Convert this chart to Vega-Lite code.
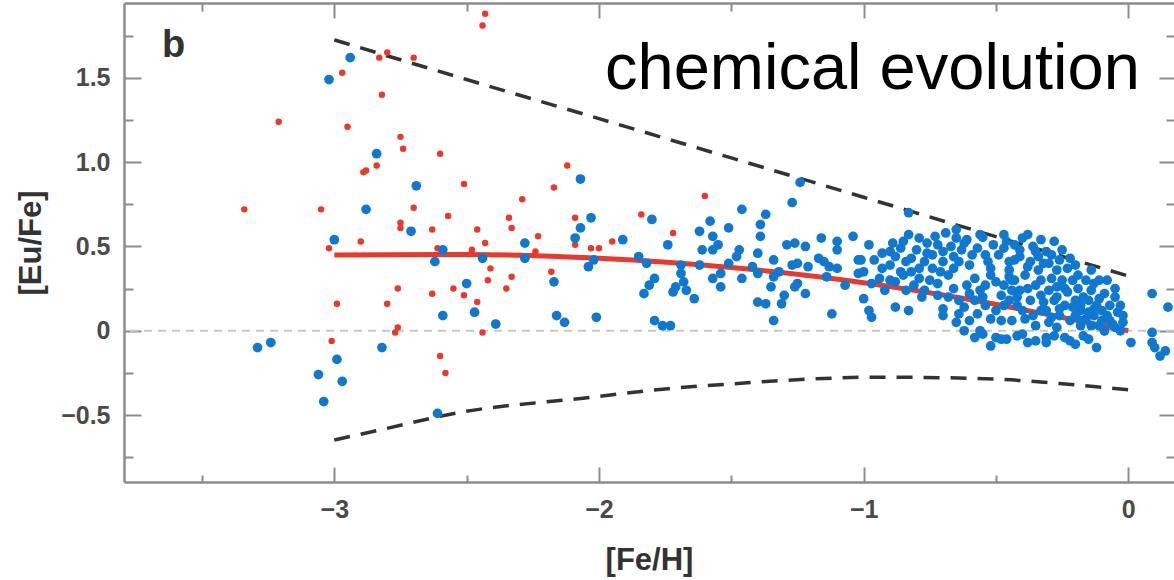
{
 "$schema": "https://vega.github.io/schema/vega-lite/v6.json",
 "width": 1050, "height": 479,
 "autosize": {"type": "none"},
 "padding": {"left": 124, "top": 3, "right": 0, "bottom": 98},
 "background": "white",
 "config": {
  "view": {"stroke": null},
  "axis": {"domainColor": "#8c8c8c", "domainWidth": 2.5, "tickColor": "#8c8c8c", "tickWidth": 2, "labelFont": "Liberation Sans", "labelFontWeight": "bold", "labelFontSize": 25, "labelColor": "#4a4a4a", "titleFont": "Liberation Sans", "titleFontWeight": "bold", "titleFontSize": 31, "titleColor": "#333333", "grid": false}
 },
 "datasets": {
  "red": [
   {"fe":-2.80,"eu":1.65},{"fe":-2.83,"eu":1.62},{"fe":-2.97,"eu":1.53},{"fe":-2.82,"eu":1.40},{"fe":-3.21,"eu":1.24},{"fe":-2.95,"eu":1.21},{"fe":-2.75,"eu":1.15},{"fe":-2.89,"eu":0.94},{"fe":-2.88,"eu":0.95},{"fe":-2.84,"eu":0.98},{"fe":-3.34,"eu":0.72},{"fe":-3.05,"eu":0.72},{"fe":-2.90,"eu":0.53},{"fe":-3.02,"eu":0.49},{"fe":-2.76,"eu":0.25},{"fe":-2.99,"eu":0.16},{"fe":-2.80,"eu":0.16},{"fe":-2.77,"eu":-0.01},{"fe":-2.76,"eu":0.02},{"fe":-3.01,"eu":-0.06},{"fe":-2.43,"eu":1.88},{"fe":-2.44,"eu":1.81},{"fe":-2.70,"eu":1.62},{"fe":-2.74,"eu":1.08},{"fe":-2.60,"eu":1.05},{"fe":-2.51,"eu":0.87},{"fe":-2.12,"eu":0.98},{"fe":-2.17,"eu":0.85},{"fe":-2.29,"eu":0.78},{"fe":-2.70,"eu":0.73},{"fe":-2.57,"eu":0.68},{"fe":-2.75,"eu":0.64},{"fe":-2.75,"eu":0.61},{"fe":-2.63,"eu":0.60},{"fe":-2.46,"eu":0.60},{"fe":-2.34,"eu":0.67},{"fe":-2.33,"eu":0.61},{"fe":-2.23,"eu":0.56},{"fe":-2.09,"eu":0.67},{"fe":-2.43,"eu":0.52},{"fe":-2.09,"eu":0.51},{"fe":-2.03,"eu":0.49},{"fe":-2.00,"eu":0.49},{"fe":-2.61,"eu":0.49},{"fe":-2.48,"eu":0.48},{"fe":-2.24,"eu":0.47},{"fe":-2.41,"eu":0.37},{"fe":-2.18,"eu":0.35},{"fe":-2.42,"eu":0.30},{"fe":-2.33,"eu":0.32},{"fe":-2.55,"eu":0.25},{"fe":-2.35,"eu":0.25},{"fe":-2.63,"eu":0.22},{"fe":-2.51,"eu":0.21},{"fe":-2.46,"eu":0.17},{"fe":-2.44,"eu":-0.01},{"fe":-2.60,"eu":-0.15},{"fe":-2.58,"eu":-0.25},{"fe":-1.60,"eu":0.80},{"fe":-1.84,"eu":0.69},{"fe":-1.72,"eu":0.58},{"fe":-1.95,"eu":0.53}
  ],
  "blue": [
   {"fe":-2.94,"eu":1.62},{"fe":-3.02,"eu":1.49},{"fe":-2.84,"eu":1.05},{"fe":-2.88,"eu":0.72},{"fe":-3.00,"eu":0.54},{"fe":-3.29,"eu":-0.10},{"fe":-3.24,"eu":-0.07},{"fe":-3.06,"eu":-0.26},{"fe":-2.99,"eu":-0.17},{"fe":-2.97,"eu":-0.30},{"fe":-3.04,"eu":-0.42},{"fe":-2.82,"eu":-0.10},{"fe":-2.69,"eu":0.86},{"fe":-2.71,"eu":0.59},{"fe":-2.62,"eu":0.41},{"fe":-2.59,"eu":0.48},{"fe":-2.59,"eu":0.09},{"fe":-2.50,"eu":0.28},{"fe":-2.47,"eu":0.11},{"fe":-2.44,"eu":0.43},{"fe":-2.39,"eu":0.04},{"fe":-2.28,"eu":0.52},{"fe":-2.28,"eu":0.43},{"fe":-2.17,"eu":0.29},{"fe":-2.16,"eu":0.09},{"fe":-2.13,"eu":0.05},{"fe":-2.09,"eu":0.55},{"fe":-2.07,"eu":0.61},{"fe":-2.04,"eu":0.38},{"fe":-2.03,"eu":0.67},{"fe":-2.02,"eu":0.42},{"fe":-2.01,"eu":0.08},{"fe":-2.07,"eu":0.90},{"fe":-2.61,"eu":-0.49},
   {"fe":-1.91,"eu":0.54},{"fe":-1.80,"eu":0.66},{"fe":-1.74,"eu":0.51},{"fe":-1.85,"eu":0.44},{"fe":-1.82,"eu":0.40},{"fe":-1.79,"eu":0.31},{"fe":-1.81,"eu":0.27},{"fe":-1.83,"eu":0.22},{"fe":-1.62,"eu":0.59},{"fe":-1.58,"eu":0.65},{"fe":-1.57,"eu":0.56},{"fe":-1.55,"eu":0.51},{"fe":-1.61,"eu":0.48},{"fe":-1.57,"eu":0.48},{"fe":-1.51,"eu":0.61},{"fe":-1.46,"eu":0.72},{"fe":-1.37,"eu":0.69},{"fe":-1.39,"eu":0.63},{"fe":-1.39,"eu":0.56},{"fe":-1.47,"eu":0.48},{"fe":-1.48,"eu":0.44},{"fe":-1.51,"eu":0.40},{"fe":-1.62,"eu":0.39},{"fe":-1.69,"eu":0.39},{"fe":-1.69,"eu":0.34},{"fe":-1.68,"eu":0.29},{"fe":-1.71,"eu":0.26},{"fe":-1.72,"eu":0.23},{"fe":-1.67,"eu":0.24},{"fe":-1.64,"eu":0.19},{"fe":-1.57,"eu":0.31},{"fe":-1.54,"eu":0.34},{"fe":-1.54,"eu":0.26},{"fe":-1.46,"eu":0.31},{"fe":-1.42,"eu":0.38},{"fe":-1.40,"eu":0.34},{"fe":-1.40,"eu":0.46},{"fe":-1.35,"eu":0.26},{"fe":-1.40,"eu":0.17},{"fe":-1.37,"eu":0.16},{"fe":-1.34,"eu":0.42},{"fe":-1.32,"eu":0.35},{"fe":-1.34,"eu":0.32},{"fe":-1.34,"eu":0.06},{"fe":-1.31,"eu":0.16},{"fe":-1.30,"eu":0.21},{"fe":-1.27,"eu":0.76},{"fe":-1.24,"eu":0.88},{"fe":-1.25,"eu":0.40},{"fe":-1.27,"eu":0.39},{"fe":-1.25,"eu":0.28},{"fe":-1.26,"eu":0.26},{"fe":-1.22,"eu":0.22},{"fe":-1.29,"eu":0.51},{"fe":-1.26,"eu":0.52},{"fe":-1.22,"eu":0.50},{"fe":-1.21,"eu":0.38},{"fe":-1.16,"eu":0.55},{"fe":-1.17,"eu":0.43},{"fe":-1.15,"eu":0.41},{"fe":-1.13,"eu":0.38},{"fe":-1.14,"eu":0.32},{"fe":-1.10,"eu":0.53},{"fe":-1.10,"eu":0.48},{"fe":-1.10,"eu":0.37},{"fe":-1.07,"eu":0.27},{"fe":-1.12,"eu":0.10},{"fe":-1.04,"eu":0.56},{"fe":-1.02,"eu":0.42},{"fe":-1.02,"eu":0.34},{"fe":-1.79,"eu":0.06},{"fe":-1.76,"eu":0.03},{"fe":-1.73,"eu":0.03},
   {"fe":-0.83,"eu":0.70},{"fe":-0.98,"eu":0.51},{"fe":-0.83,"eu":0.57},{"fe":-0.65,"eu":0.60},{"fe":-0.65,"eu":0.55},{"fe":-0.55,"eu":0.555},{"fe":-0.47,"eu":0.57},{"fe":-0.76,"eu":0.52},{"fe":-0.89,"eu":0.52},{"fe":-0.86,"eu":0.49},{"fe":-0.90,"eu":0.47},{"fe":-0.93,"eu":0.46},{"fe":-1.01,"eu":0.42},{"fe":-1.00,"eu":0.35},{"fe":-0.96,"eu":0.42},{"fe":-0.94,"eu":0.31},{"fe":-0.97,"eu":0.28},{"fe":-1.00,"eu":0.19},{"fe":-0.98,"eu":0.12},{"fe":-0.97,"eu":0.08},{"fe":-0.88,"eu":0.14},{"fe":-0.83,"eu":0.12},{"fe":-0.70,"eu":0.09},{"fe":-0.64,"eu":0.10},{"fe":-0.78,"eu":0.20},{"fe":-0.72,"eu":0.21},
   {"fe":-0.90,"eu":0.39},{"fe":-0.86,"eu":0.35},{"fe":-0.82,"eu":0.43},{"fe":-0.79,"eu":0.37},{"fe":-0.75,"eu":0.30},{"fe":-0.74,"eu":0.45},{"fe":-0.70,"eu":0.41},{"fe":-0.68,"eu":0.33},{"fe":-0.66,"eu":0.25},{"fe":-0.63,"eu":0.48},{"fe":-0.60,"eu":0.39},{"fe":-0.58,"eu":0.31},{"fe":-0.56,"eu":0.24},{"fe":-0.54,"eu":0.45},{"fe":-0.52,"eu":0.37},{"fe":-0.50,"eu":0.29},{"fe":-0.48,"eu":0.21},{"fe":-0.47,"eu":0.49},{"fe":-0.45,"eu":0.41},{"fe":-0.45,"eu":0.32},{"fe":-0.77,"eu":0.24},{"fe":-0.81,"eu":0.27},{"fe":-0.84,"eu":0.24},{"fe":-0.88,"eu":0.29},{"fe":-0.72,"eu":0.51},{"fe":-0.64,"eu":0.18},{"fe":-0.58,"eu":0.18},{"fe":-0.54,"eu":0.15},{"fe":-0.50,"eu":0.12},{"fe":-0.48,"eu":0.06},{"fe":-0.60,"eu":0.06},{"fe":-0.56,"eu":0.00},{"fe":-0.62,"eu":0.00},{"fe":-0.58,"eu":-0.04},{"fe":-0.50,"eu":-0.04},{"fe":-0.52,"eu":-0.09},{"fe":-0.48,"eu":-0.05},{"fe":-0.67,"eu":0.50},{"fe":-0.80,"eu":0.48},{"fe":-0.84,"eu":0.41},{"fe":-0.77,"eu":0.41},{"fe":-0.71,"eu":0.35},{"fe":-0.64,"eu":0.41},{"fe":-0.61,"eu":0.54},{"fe":-0.57,"eu":0.49},{"fe":-0.51,"eu":0.51},{"fe":-0.61,"eu":0.27},{"fe":-0.54,"eu":0.27},{"fe":-0.47,"eu":0.27},{"fe":-0.47,"eu":0.15},{"fe":-0.52,"eu":0.07},{"fe":-0.82,"eu":0.35},{"fe":-0.92,"eu":0.24},{"fe":-0.74,"eu":0.37},
   {"fe":-0.38,"eu":0.57},{"fe":-0.35,"eu":0.47},{"fe":-0.31,"eu":0.47},{"fe":-0.29,"eu":0.45},{"fe":-0.32,"eu":0.40},{"fe":-0.20,"eu":0.39},{"fe":-0.41,"eu":0.48},{"fe":-0.41,"eu":0.44},{"fe":-0.45,"eu":0.36},{"fe":-0.43,"eu":0.30},{"fe":-0.41,"eu":0.24},{"fe":-0.39,"eu":0.33},{"fe":-0.37,"eu":0.18},{"fe":-0.35,"eu":0.27},{"fe":-0.33,"eu":0.21},{"fe":-0.31,"eu":0.12},{"fe":-0.30,"eu":0.24},{"fe":-0.28,"eu":0.18},{"fe":-0.26,"eu":0.09},{"fe":-0.24,"eu":0.15},{"fe":-0.22,"eu":0.06},{"fe":-0.20,"eu":0.18},{"fe":-0.18,"eu":0.12},{"fe":-0.16,"eu":0.07},{"fe":-0.14,"eu":0.03},{"fe":-0.13,"eu":0.09},{"fe":-0.11,"eu":0.03},{"fe":-0.09,"eu":0.00},{"fe":-0.07,"eu":0.06},{"fe":-0.05,"eu":0.02},{"fe":-0.29,"eu":0.31},{"fe":-0.27,"eu":0.26},{"fe":-0.24,"eu":0.25},{"fe":-0.17,"eu":0.20},{"fe":-0.18,"eu":0.15},{"fe":-0.13,"eu":0.13},{"fe":-0.05,"eu":0.25},{"fe":-0.05,"eu":0.20},{"fe":-0.07,"eu":0.15},{"fe":-0.03,"eu":0.15},{"fe":-0.02,"eu":0.05},{"fe":0.01,"eu":-0.07},{"fe":0.09,"eu":0.22},{"fe":0.15,"eu":0.14},{"fe":0.09,"eu":-0.01},{"fe":0.09,"eu":-0.07},{"fe":0.10,"eu":-0.10},{"fe":0.14,"eu":-0.12},{"fe":0.12,"eu":-0.15},{"fe":-0.42,"eu":-0.03},{"fe":-0.38,"eu":-0.07},{"fe":-0.31,"eu":-0.04},{"fe":-0.31,"eu":-0.07},{"fe":-0.24,"eu":-0.04},{"fe":-0.22,"eu":-0.06},{"fe":-0.17,"eu":-0.03},{"fe":-0.12,"eu":-0.10},{"fe":-0.09,"eu":0.00},
   {"fe":-0.44,"eu":0.24},{"fe":-0.42,"eu":0.15},{"fe":-0.39,"eu":0.07},{"fe":-0.37,"eu":0.41},{"fe":-0.34,"eu":0.36},{"fe":-0.33,"eu":0.30},{"fe":-0.30,"eu":0.05},{"fe":-0.27,"eu":0.36},{"fe":-0.25,"eu":0.30},{"fe":-0.23,"eu":0.23},{"fe":-0.21,"eu":0.30},{"fe":-0.19,"eu":0.25},{"fe":-0.15,"eu":0.18},{"fe":-0.14,"eu":0.24},{"fe":-0.11,"eu":0.19},{"fe":-0.10,"eu":0.12},{"fe":-0.08,"eu":0.09},{"fe":-0.35,"eu":0.03},{"fe":-0.27,"eu":0.02},{"fe":-0.18,"eu":0.03},{"fe":-0.43,"eu":0.51},{"fe":-0.33,"eu":0.54},{"fe":-0.25,"eu":0.48},{"fe":-0.22,"eu":0.43},{"fe":-0.14,"eu":0.36},{"fe":-0.11,"eu":0.30},{"fe":-0.44,"eu":0.06},{"fe":-0.45,"eu":0.18},{"fe":-0.04,"eu":0.11},{"fe":-0.02,"eu":0.09},
   {"fe":-0.88,"eu":0.44},{"fe":-0.85,"eu":0.53},{"fe":-0.79,"eu":0.55},{"fe":-0.76,"eu":0.46},{"fe":-0.73,"eu":0.56},{"fe":-0.70,"eu":0.47},{"fe":-0.69,"eu":0.58},{"fe":-0.66,"eu":0.44},{"fe":-0.62,"eu":0.52},{"fe":-0.59,"eu":0.45},{"fe":-0.56,"eu":0.57},{"fe":-0.53,"eu":0.41},{"fe":-0.49,"eu":0.45},{"fe":-0.46,"eu":0.53},{"fe":-0.43,"eu":0.42},{"fe":-0.40,"eu":0.55},{"fe":-0.38,"eu":0.38},{"fe":-0.36,"eu":0.50},{"fe":-0.34,"eu":0.44},{"fe":-0.30,"eu":0.40},{"fe":-0.28,"eu":0.53},{"fe":-0.26,"eu":0.42},{"fe":-0.23,"eu":0.37},{"fe":-0.19,"eu":0.33},{"fe":-0.16,"eu":0.30},{"fe":-0.13,"eu":0.28},{"fe":-0.09,"eu":0.22},{"fe":-0.08,"eu":0.30},{"fe":-0.06,"eu":0.04},{"fe":-0.03,"eu":0.00},{"fe":-0.12,"eu":0.15},{"fe":-0.15,"eu":0.11},{"fe":-0.20,"eu":0.09},{"fe":-0.26,"eu":0.13},{"fe":-0.29,"eu":0.08},{"fe":-0.33,"eu":0.12},{"fe":-0.36,"eu":0.09},{"fe":-0.40,"eu":0.12},{"fe":-0.42,"eu":0.20},{"fe":-0.38,"eu":0.25},{"fe":-0.32,"eu":0.17},{"fe":-0.27,"eu":0.20},{"fe":-0.21,"eu":0.14},{"fe":-0.18,"eu":0.06},{"fe":-0.10,"eu":0.06},{"fe":-0.57,"eu":0.10},{"fe":-0.62,"eu":0.14},{"fe":-0.55,"eu":0.20},{"fe":-0.60,"eu":0.22},{"fe":-0.68,"eu":0.20},{"fe":-0.72,"eu":0.28},{"fe":-0.79,"eu":0.31},{"fe":-0.85,"eu":0.33},{"fe":-0.90,"eu":0.30},{"fe":-0.93,"eu":0.37},{"fe":-0.66,"eu":0.37},{"fe":-0.52,"eu":0.33},{"fe":-0.44,"eu":0.30},{"fe":-0.46,"eu":-0.05},{"fe":-0.40,"eu":-0.02},{"fe":-0.35,"eu":-0.06},{"fe":-0.28,"eu":-0.03},{"fe":-0.20,"eu":-0.08},{"fe":-0.15,"eu":-0.05},{"fe":-0.55,"eu":-0.02},{"fe":-0.65,"eu":0.05},{"fe":-0.70,"eu":0.13}
  ],
  "upper": [{"fe":-3,"eu":1.725},{"fe":-2.5,"eu":1.49},{"fe":-2,"eu":1.258},{"fe":-1.5,"eu":1.025},{"fe":-1,"eu":0.792},{"fe":-0.5,"eu":0.558},{"fe":0,"eu":0.325}],
  "lower": [{"fe":-3,"eu":-0.648},{"fe":-2.83,"eu":-0.589},{"fe":-2.51,"eu":-0.48},{"fe":-2.06,"eu":-0.40},{"fe":-1.75,"eu":-0.345},{"fe":-1.5,"eu":-0.315},{"fe":-0.93,"eu":-0.275},{"fe":-0.5,"eu":-0.287},{"fe":-0.25,"eu":-0.314},{"fe":0,"eu":-0.35}],
  "fit": [{"fe":-3,"eu":0.45},{"fe":-2.5,"eu":0.452},{"fe":-2,"eu":0.43},{"fe":-1.5,"eu":0.375},{"fe":-1,"eu":0.285},{"fe":-0.6,"eu":0.185},{"fe":-0.3,"eu":0.095},{"fe":0,"eu":0.0}],
  "labels": [{"fe":-3.651,"eu":1.623,"t":"b","k":"panel"},{"fe":-1.977,"eu":1.4365,"t":"chemical evolution","k":"title"}]
 },
 "resolve": {"axis": {"x": "independent", "y": "independent"}},
 "layer": [
  {
   "data": {"values": [{"v": 0}]},
   "mark": {"type": "rule", "color": "#c8c8c8", "strokeWidth": 2, "strokeDash": [8, 6]},
   "encoding": {"y": {"field": "v", "type": "quantitative", "scale": {"domain": [-0.897, 1.944], "nice": false, "zero": false}, "axis": null}}
  },
  {
   "data": {"name": "upper"},
   "mark": {"type": "line", "color": "#333333", "strokeWidth": 3.5, "strokeDash": [16, 11], "interpolate": "monotone"},
   "encoding": {
    "x": {"field": "fe", "type": "quantitative", "scale": {"domain": [-3.7946, 0.1727], "nice": false, "zero": false}, "axis": null},
    "y": {"field": "eu", "type": "quantitative", "scale": {"domain": [-0.897, 1.944], "nice": false, "zero": false}, "axis": null}
   }
  },
  {
   "data": {"name": "lower"},
   "mark": {"type": "line", "color": "#333333", "strokeWidth": 3.5, "strokeDash": [16, 11], "interpolate": "monotone"},
   "encoding": {
    "x": {"field": "fe", "type": "quantitative", "scale": {"domain": [-3.7946, 0.1727], "nice": false, "zero": false}, "axis": null},
    "y": {"field": "eu", "type": "quantitative", "scale": {"domain": [-0.897, 1.944], "nice": false, "zero": false}, "axis": null}
   }
  },
  {
   "data": {"name": "fit"},
   "mark": {"type": "line", "color": "#e8392c", "strokeWidth": 5, "interpolate": "monotone"},
   "encoding": {
    "x": {"field": "fe", "type": "quantitative", "scale": {"domain": [-3.7946, 0.1727], "nice": false, "zero": false}, "axis": null},
    "y": {"field": "eu", "type": "quantitative", "scale": {"domain": [-0.897, 1.944], "nice": false, "zero": false}, "axis": null}
   }
  },
  {
   "data": {"name": "red"},
   "mark": {"type": "circle", "color": "#e8392c", "size": 42, "opacity": 1},
   "encoding": {
    "x": {"field": "fe", "type": "quantitative", "scale": {"domain": [-3.7946, 0.1727], "nice": false, "zero": false},
          "axis": {"orient": "top", "values": [-3.5, -3, -2.5, -2, -1.5, -1, -0.5, 0], "labels": false, "title": null,
                   "tickSize": {"condition": {"test": "datum.value % 1 === 0", "value": -15}, "value": -8}}},
    "y": {"field": "eu", "type": "quantitative", "scale": {"domain": [-0.897, 1.944], "nice": false, "zero": false},
          "axis": {"orient": "right", "values": [-0.75, -0.5, -0.25, 0, 0.25, 0.5, 0.75, 1, 1.25, 1.5, 1.75], "labels": false, "title": null, "domain": false,
                   "tickSize": {"condition": {"test": "datum.value % 0.5 === 0", "value": -15}, "value": -8}}}
   }
  },
  {
   "data": {"name": "blue"},
   "mark": {"type": "circle", "color": "#0f78d0", "size": 95, "opacity": 1},
   "encoding": {
    "x": {"field": "fe", "type": "quantitative", "scale": {"domain": [-3.7946, 0.1727], "nice": false, "zero": false},
          "axis": {"orient": "bottom", "values": [-3.5, -3, -2.5, -2, -1.5, -1, -0.5, 0], "title": "[Fe/H]",
                   "labelExpr": "datum.value % 1 === 0 ? (datum.value < 0 ? '\u2212' + (-datum.value) : '' + datum.value) : ''",
                   "tickSize": {"condition": {"test": "datum.value % 1 === 0", "value": -15}, "value": -7},
                   "labelPadding": 30, "titleY": 87, "titleBaseline": "alphabetic"}},
    "y": {"field": "eu", "type": "quantitative", "scale": {"domain": [-0.897, 1.944], "nice": false, "zero": false},
          "axis": {"orient": "left", "values": [-0.75, -0.5, -0.25, 0, 0.25, 0.5, 0.75, 1, 1.25, 1.5, 1.75], "title": "[Eu/Fe]",
                   "labelExpr": "datum.value === 0 ? '0' : (datum.value % 0.5 === 0 ? (datum.value < 0 ? '\u2212' + format(-datum.value, '.1f') : format(datum.value, '.1f')) : '')",
                   "tickSize": {"condition": {"test": "datum.value % 0.5 === 0", "value": -17}, "value": -9},
                   "labelPadding": 31, "titleX": -84, "titleBaseline": "alphabetic"}}
   }
  },
  {
   "data": {"name": "labels"},
   "transform": [{"filter": "datum.k === 'title'"}],
   "mark": {"type": "text", "font": "Liberation Sans", "fontSize": 65, "color": "#000000", "align": "left", "baseline": "alphabetic"},
   "encoding": {
    "x": {"field": "fe", "type": "quantitative", "scale": {"domain": [-3.7946, 0.1727], "nice": false, "zero": false}, "axis": null},
    "y": {"field": "eu", "type": "quantitative", "scale": {"domain": [-0.897, 1.944], "nice": false, "zero": false}, "axis": null},
    "text": {"field": "t"}
   }
  },
  {
   "data": {"name": "labels"},
   "transform": [{"filter": "datum.k === 'panel'"}],
   "mark": {"type": "text", "font": "Liberation Sans", "fontSize": 38, "fontWeight": "bold", "color": "#333333", "align": "left", "baseline": "alphabetic"},
   "encoding": {
    "x": {"field": "fe", "type": "quantitative", "scale": {"domain": [-3.7946, 0.1727], "nice": false, "zero": false}, "axis": null},
    "y": {"field": "eu", "type": "quantitative", "scale": {"domain": [-0.897, 1.944], "nice": false, "zero": false}, "axis": null},
    "text": {"field": "t"}
   }
  }
 ]
}
